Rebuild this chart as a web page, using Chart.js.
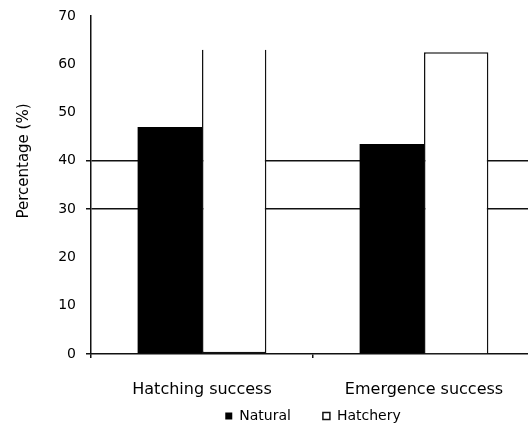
<!DOCTYPE html>
<html>
<head>
<meta charset="utf-8">
<script src="https://cdn.jsdelivr.net/npm/chart.js@4/dist/chart.umd.min.js"></script>
<style>
  html, body { margin: 0; padding: 0; background: #fff; overflow: hidden; }
  #wrap { width: 528px; height: 427px; overflow: hidden; }
  canvas { display: block; }
</style>
</head>
<body>
<div id="wrap"><canvas id="c" width="540" height="427"></canvas></div>
<script>
const categories = ['Hatching success', 'Emergence success'];
const naturalValues = [47, 43.5];
const hatcheryValues = [63, 62.5];
const yTicks = [0, 10, 20, 30, 40, 50, 60, 70];
const markedLevels = [30, 40];
const yAxisTitle = 'Percentage (%)';

const FONT = 'DejaVu Sans';

// Rotated y-axis caption
const axisCaption = {
  id: 'axisCaption',
  afterDraw(chart) {
    const ctx = chart.ctx;
    ctx.save();
    ctx.translate(24, 161);
    ctx.rotate(-Math.PI / 2);
    ctx.font = '15px "' + FONT + '"';
    ctx.fillStyle = '#000';
    ctx.textAlign = 'center';
    ctx.textBaseline = 'middle';
    ctx.fillText(yAxisTitle, 0, 0);
    ctx.restore();
  }
};

// Pull the legend up closer to the category labels and give it room to draw
const legendLift = {
  id: 'legendLift',
  afterLayout(chart) {
    const lg = chart.legend;
    if (!lg) return;
    lg.top -= 22;
    lg.bottom = chart.height;
    lg.height = lg.bottom - lg.top;
  }
};

new Chart(document.getElementById('c'), {
  type: 'bar',
  data: {
    labels: categories,
    datasets: [
      {
        label: 'Natural',
        data: naturalValues,
        backgroundColor: '#000',
        borderColor: '#000',
        borderWidth: 0
      },
      {
        label: 'Hatchery',
        data: hatcheryValues,
        backgroundColor: '#fff',
        borderColor: '#111',
        borderWidth: 1.5,
        borderSkipped: (ctx) => (ctx.dataIndex === 0 ? 'top' : 'bottom')
      }
    ]
  },
  options: {
    responsive: false,
    animation: false,
    events: [],
    layout: { padding: { top: 16, right: 5, left: 0, bottom: 0 } },
    datasets: {
      bar: { categoryPercentage: 0.58, barPercentage: 1.0 }
    },
    scales: {
      x: {
        offset: true,
        afterFit(scale) { scale.height = 45; },
        grid: {
          offset: true,
          drawOnChartArea: false,
          drawTicks: true,
          tickLength: 4,
          color: '#111',
          lineWidth: 1.5
        },
        border: { display: true, color: '#111', width: 1.5 },
        ticks: {
          color: '#000',
          padding: 22,
          autoSkip: false,
          maxRotation: 0,
          minRotation: 0,
          font: { family: FONT, size: 16 }
        }
      },
      y: {
        min: 0,
        max: 70,
        afterFit(scale) {
          scale.width = 91;
          scale.paddingTop = 0;
          scale.paddingBottom = 0;
        },
        afterBuildTicks(scale) { scale.ticks = yTicks.map(v => ({ value: v })); },
        grid: {
          drawTicks: true,
          tickLength: 5,
          lineWidth: 1.5,
          color: (ctx) => (ctx.tick && markedLevels.includes(ctx.tick.value) ? '#111' : 'rgba(0,0,0,0)'),
          tickColor: (ctx) => (ctx.tick && (markedLevels.includes(ctx.tick.value) || ctx.tick.value === 0) ? '#111' : 'rgba(0,0,0,0)')
        },
        border: { display: true, color: '#111', width: 1.5 },
        ticks: {
          color: '#000',
          padding: 10,
          font: { family: FONT, size: 14 }
        }
      }
    },
    plugins: {
      tooltip: { enabled: false },
      legend: {
        position: 'bottom',
        fullSize: false,
        maxHeight: 28,
        labels: {
          color: '#000',
          boxWidth: 7,
          boxHeight: 7,
          padding: 32,
          font: { family: FONT, size: 14 }
        }
      }
    }
  },
  plugins: [axisCaption, legendLift]
});
</script>
</body>
</html>
